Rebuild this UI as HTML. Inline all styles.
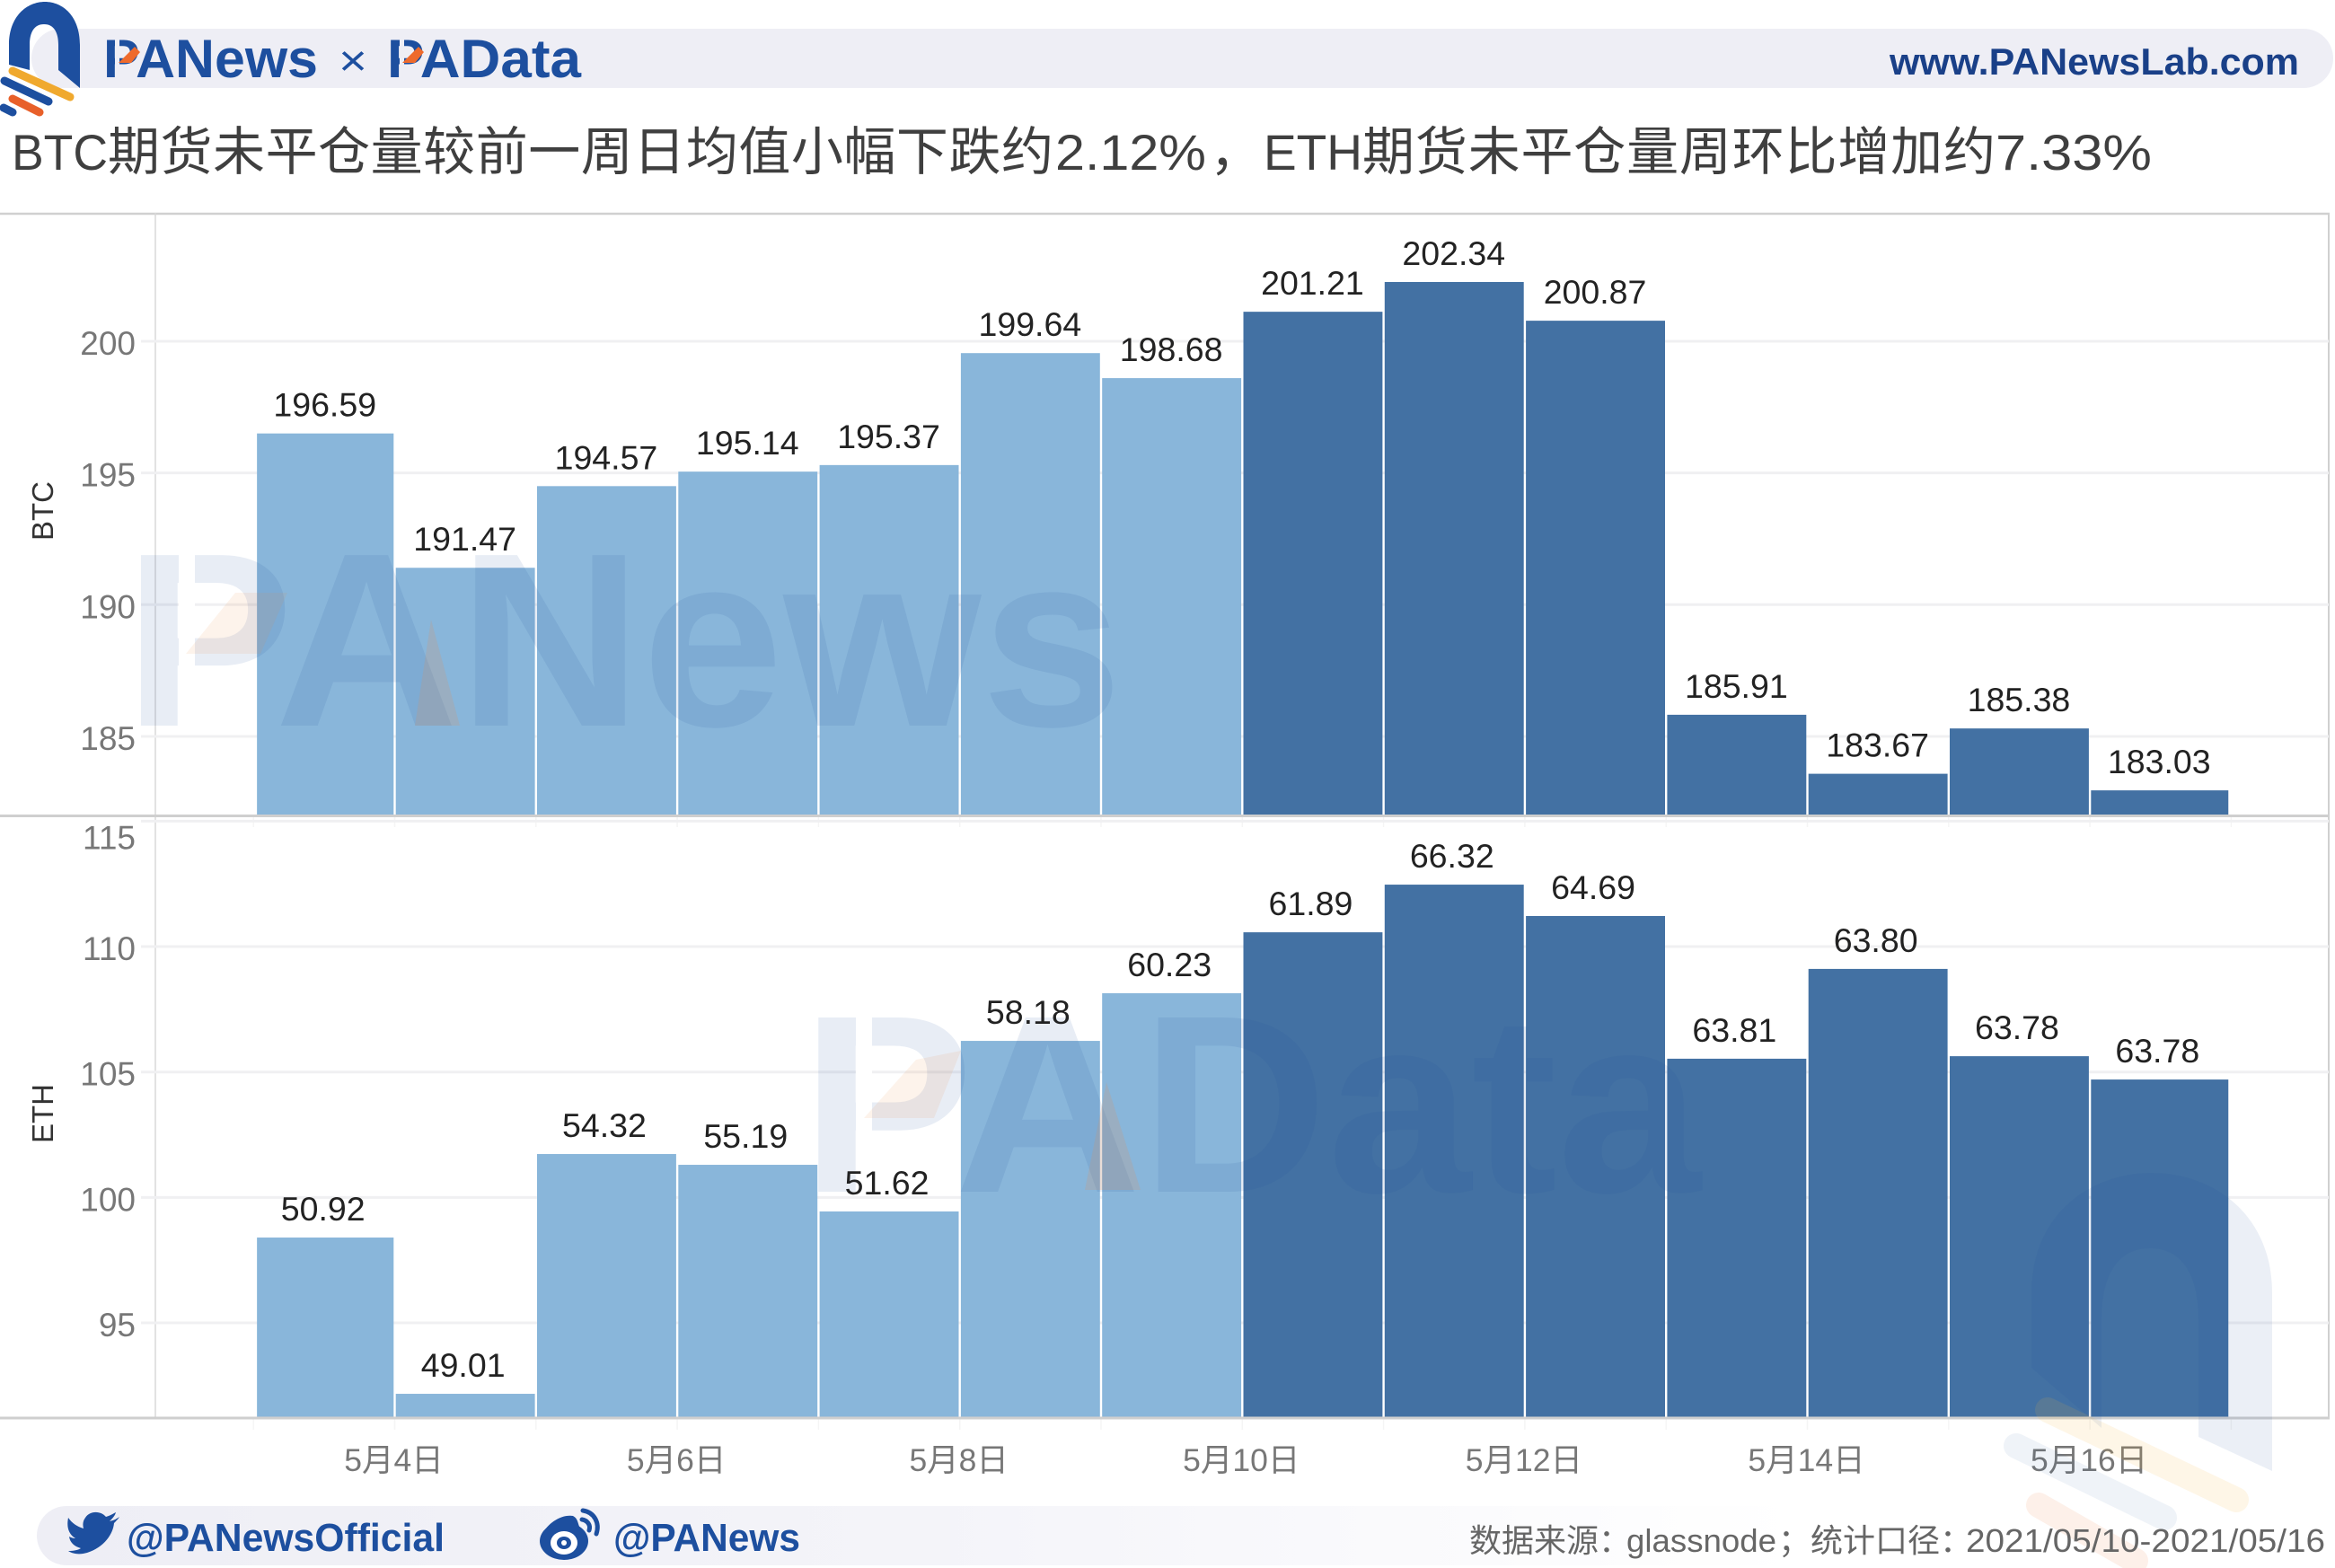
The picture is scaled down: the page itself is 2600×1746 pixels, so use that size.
<!DOCTYPE html>
<html lang="zh">
<head>
<meta charset="utf-8">
<title>BTC / ETH 期货未平仓量</title>
<style>
html,body{margin:0;padding:0;background:#fff;}
svg{display:block;font-family:"Liberation Sans","Noto Sans CJK SC",sans-serif;}
</style>
</head>
<body>
<svg id="chart" xmlns="http://www.w3.org/2000/svg" width="2600" height="1746" viewBox="0 0 2600 1746">
  <defs>
    <linearGradient id="footerFade" x1="0" x2="1" y1="0" y2="0">
      <stop offset="0" stop-color="#eeeef5"/>
      <stop offset="0.5" stop-color="#f4f4f9"/>
      <stop offset="1" stop-color="#ffffff"/>
    </linearGradient>
  </defs>
  <rect x="0" y="0" width="2600" height="1746" fill="#fff"/>

  <rect x="35" y="32" width="2563" height="66" rx="33" fill="#eeeef5"/>
  <rect x="41" y="1677" width="1960" height="66" rx="33" fill="url(#footerFade)"/>

  <g id="plot"></g>

  <g>
    <text x="138" y="808" font-size="276" font-weight="700" fill="#1d4f9f" fill-opacity="0.1" textLength="1112" lengthAdjust="spacingAndGlyphs">PANews</text>
    <rect x="199" y="606" width="18" height="208" fill="#fff"/>
    <polygon points="207,728 262,660 320,660 290,728" fill="#f08a3c" fill-opacity="0.1"/>
    <polygon points="480,690 512,808 462,808" fill="#f08a3c" fill-opacity="0.16"/>
  </g>
  <g>
    <text x="892" y="1327" font-size="282" font-weight="700" fill="#1d4f9f" fill-opacity="0.1" textLength="1002" lengthAdjust="spacingAndGlyphs">PAData</text>
    <rect x="953" y="1120" width="18" height="210" fill="#fff"/>
    <polygon points="962,1245 1020,1180 1070,1170 1040,1245" fill="#f08a3c" fill-opacity="0.1"/>
    <polygon points="1232,1205 1270,1325 1208,1325" fill="#f08a3c" fill-opacity="0.16"/>
  </g>
  <g>
    <path d="M2262 1523 V1440 C2262 1350 2330 1306 2396 1306 C2462 1306 2530 1350 2530 1440 V1638 L2448 1600 V1470 C2448 1420 2430 1390 2394 1390 C2358 1390 2340 1420 2340 1470 V1590 Z" fill="#1d4f9f" fill-opacity="0.09"/>
    <line x1="2280" y1="1570" x2="2490" y2="1670" stroke="#f5b93a" stroke-opacity="0.12" stroke-width="28" stroke-linecap="round"/>
    <line x1="2245" y1="1610" x2="2410" y2="1690" stroke="#1d4f9f" stroke-opacity="0.07" stroke-width="28" stroke-linecap="round"/>
    <line x1="2270" y1="1676" x2="2378" y2="1738" stroke="#ee6a2c" stroke-opacity="0.1" stroke-width="28" stroke-linecap="round"/>
  </g>

  <g id="value-labels"></g>

  <g>
    <path d="M10 72 V50 C10 18 30 2 50 2 C70 2 89 18 89 50 V98 L65 78 V50 C65 36 60 27 49 27 C38 27 33 36 33 50 V78 Z" fill="#1d4f9f"/>
    <line x1="14" y1="79" x2="78" y2="108" stroke="#f0a92e" stroke-width="9" stroke-linecap="round"/>
    <line x1="5" y1="90" x2="54" y2="113" stroke="#1d4f9f" stroke-width="9" stroke-linecap="round"/>
    <line x1="14" y1="110" x2="44" y2="125" stroke="#e8602a" stroke-width="9" stroke-linecap="round"/>
    <line x1="4" y1="120" x2="14" y2="125" stroke="#1d4f9f" stroke-width="9" stroke-linecap="round"/>
  </g>
  <text x="115" y="86" font-size="60" font-weight="700" fill="#1d4f9f" textLength="239" lengthAdjust="spacingAndGlyphs">PANews</text>
  <rect x="128" y="42" width="5" height="46" fill="#eeeef5"/>
  <polygon points="132,70 150,52 156,58 146,70" fill="#ee6a2c"/>
  <text x="377" y="84" font-size="48" fill="#1d4f9f" textLength="32" lengthAdjust="spacingAndGlyphs">×</text>
  <text x="431" y="86" font-size="60" font-weight="700" fill="#1d4f9f" textLength="216" lengthAdjust="spacingAndGlyphs">PAData</text>
  <rect x="445" y="42" width="5" height="46" fill="#eeeef5"/>
  <polygon points="448,70 466,52 472,58 462,70" fill="#ee6a2c"/>
  <text x="2104" y="83" font-size="42" font-weight="700" fill="#1a4088" textLength="456" lengthAdjust="spacingAndGlyphs">www.PANewsLab.com</text>

  <g fill="#3f3f3f" font-size="58">
    <text x="13" y="189" font-size="56" textLength="107" lengthAdjust="spacingAndGlyphs">BTC</text>
    <text x="120" y="189" textLength="1053" lengthAdjust="spacing">期货未平仓量较前一周日均值小幅下跌约</text>
    <text x="1175" y="189" font-size="56" textLength="168" lengthAdjust="spacingAndGlyphs">2.12%</text>
    <text x="1347" y="189">，</text>
    <text x="1407" y="189" font-size="56" textLength="110" lengthAdjust="spacingAndGlyphs">ETH</text>
    <text x="1517" y="189" textLength="705" lengthAdjust="spacing">期货未平仓量周环比增加约</text>
    <text x="2222" y="189" font-size="56" textLength="174" lengthAdjust="spacingAndGlyphs">7.33%</text>
  </g>

  <path d="M133 1689 C129 1692 126 1693 122 1694 C125 1691 128 1688 129 1684 C125 1686 122 1688 118 1689 C112 1682 100 1682 95 1690 C92 1694 92 1698 93 1702 C86 1700 80 1696 76 1690 C74 1700 76 1708 84 1713 C81 1713 79 1712 77 1711 C78 1718 83 1722 90 1724 C87 1726 82 1727 76 1727 C82 1731 90 1731 97 1729 C116 1723 126 1708 127 1696 C129 1694 132 1691 133 1689 Z" fill="#1d4f9f"/>
  <text x="141" y="1727" font-size="44" font-weight="700" fill="#1d4f9f" textLength="354" lengthAdjust="spacingAndGlyphs">@PANewsOfficial</text>
  <g>
    <ellipse cx="628" cy="1716" rx="27" ry="21" fill="#1d4f9f"/>
    <path d="M604 1708 C610 1696 625 1686 638 1688 C646 1692 642 1702 650 1704 L640 1712 L610 1718 Z" fill="#1d4f9f"/>
    <ellipse cx="628" cy="1718" rx="15" ry="13" fill="#fff"/>
    <ellipse cx="628" cy="1718" rx="8" ry="7" fill="#1d4f9f"/>
    <ellipse cx="628" cy="1718" rx="3" ry="3" fill="#fff"/>
    <path d="M649 1682 C662 1684 668 1696 664 1708 M648 1692 C654 1693 658 1698 656 1704" fill="none" stroke="#1d4f9f" stroke-width="5" stroke-linecap="round"/>
  </g>
  <text x="683" y="1727" font-size="44" font-weight="700" fill="#1d4f9f" textLength="208" lengthAdjust="spacingAndGlyphs">@PANews</text>
  <g font-size="36" fill="#666">
    <text x="1636" y="1728">数据来源：</text>
    <text x="1811" y="1728" textLength="167" lengthAdjust="spacingAndGlyphs">glassnode</text>
    <text x="1980" y="1728">；</text>
    <text x="2016" y="1728">统计口径：</text>
    <text x="2189" y="1728" textLength="400" lengthAdjust="spacingAndGlyphs">2021/05/10-2021/05/16</text>
  </g>
</svg>

<script>
// Day of May on which each bar starts
const barDays = [3, 4, 5, 6, 7, 8, 9, 10, 11, 12, 13, 14, 15, 16];
const btcValues = [196.5, 191.4, 194.5, 195.05, 195.3, 199.55, 198.6, 201.12, 202.25, 200.78, 185.82, 183.58, 185.3, 182.95];
const ethValues = [98.4, 92.17, 101.73, 101.3, 99.44, 106.24, 108.14, 110.57, 112.47, 111.22, 105.53, 109.11, 105.63, 104.7];
// Labels printed over the bars
const btcLabels = ['196.59', '191.47', '194.57', '195.14', '195.37', '199.64', '198.68', '201.21', '202.34', '200.87', '185.91', '183.67', '185.38', '183.03'];
const ethLabels = ['50.92', '49.01', '54.32', '55.19', '51.62', '58.18', '60.23', '61.89', '66.32', '64.69', '63.81', '63.80', '63.78', '63.78'];
// Number of leading bars drawn in the lighter colour
const lightBarCount = 7;
// Axis ticks
const btcTicks = [200, 195, 190, 185];
const ethTicks = [115, 110, 105, 100, 95];
const xTickDays = [4, 6, 8, 10, 12, 14, 16];
const xTickLabels = ['5月4日', '5月6日', '5月8日', '5月10日', '5月12日', '5月14日', '5月16日'];
const minorTickDays = [3, 4, 5, 6, 7, 8, 9, 10, 11, 12, 13, 14, 15, 16, 17];

const NS = 'http://www.w3.org/2000/svg';
const plot = document.getElementById('plot');
const valueLabelLayer = document.getElementById('value-labels');

function xScale(day) {
  return 439.5 + (day - 4) * 157.3;
}
function btcY(v) {
  return 380 + (200 - v) * 29.33;
}
function ethY(v) {
  return 1473 - (v - 95) * 27.93;
}
const xMin = 3.025;
const xMax = 16.98;

function make(tag, attrs, text, parent) {
  const el = document.createElementNS(NS, tag);
  Object.keys(attrs).forEach(function (k) { el.setAttribute(k, attrs[k]); });
  if (text !== undefined) el.textContent = text;
  (parent || plot).appendChild(el);
  return el;
}

function drawLine(x1, y1, x2, y2, color, width, name) {
  const el = make('line', { x1: x1, y1: y1, x2: x2, y2: y2, stroke: color, 'stroke-width': width });
  
  
}

function drawPanel(prefix, values, labels, ticks, yFn, baseY, labelShift) {
  ticks.forEach(function (t) {
    const gy = yFn(t);
    drawLine(157, gy, 2593, gy, '#f0f0f2', 3, prefix + '-gridline-' + t);
    const isTop = (gy - 237 < 10) || (baseY > 1000 && gy < 925);
    const tickLabel = make('text', { x: 151, y: gy + (isTop ? 31 : 15), 'text-anchor': 'end', 'font-size': 37, fill: '#777' }, String(t));
    
    
  });
  minorTickDays.forEach(function (d) {
    const tx = xScale(d);
    drawLine(tx, baseY, tx, baseY + 14, '#f5f5f5', 1.5, prefix + '-x-tick');
  });
  values.forEach(function (v, i) {
    const left = Math.max(barDays[i], xMin);
    const right = Math.min(barDays[i] + 1, xMax);
    const x0 = xScale(left) + (barDays[i] > xMin ? 1.2 : 0);
    const x1 = xScale(right) - (barDays[i] + 1 < xMax ? 1.2 : 0);
    const top = yFn(v);
    const bar = make('rect', { x: x0, y: top, width: x1 - x0, height: baseY - top, fill: i < lightBarCount ? '#89b6da' : '#4371a3' });
    
    
    const label = make('text', { x: (x0 + x1) / 2 + labelShift, y: top - 19, 'text-anchor': 'middle', 'font-size': 37.5, fill: '#222' }, labels[i], valueLabelLayer);
    
    
  });
}

drawLine(0, 238, 2594, 238, '#d0d0d0', 2.5, 'panel-top-border');
drawLine(173, 237, 173, 1579, '#d8d8d8', 1.5, 'y-axis-line');
drawLine(2593, 237, 2593, 1579, '#d0d0d0', 2, 'panel-right-border');

drawPanel('btc', btcValues, btcLabels, btcTicks, btcY, 907, -0.5);
drawPanel('eth', ethValues, ethLabels, ethTicks, ethY, 1578, -2.5);

drawLine(0, 908.5, 2594, 908.5, '#cfcfcf', 3, 'panel-divider');
drawLine(0, 1579, 2594, 1579, '#cfcfcf', 3, 'x-axis-line');

xTickDays.forEach(function (d, i) {
  const tick = make('text', { x: xScale(d) - 1, y: 1638, 'text-anchor': 'middle', 'font-size': 35.5, fill: '#777' }, xTickLabels[i]);
  
  
});

const btcTitle = make('text', { transform: 'translate(59,569) rotate(-90)', 'text-anchor': 'middle', 'font-size': 33, fill: '#333' }, 'BTC');



const ethTitle = make('text', { transform: 'translate(59,1240) rotate(-90)', 'text-anchor': 'middle', 'font-size': 33, fill: '#333' }, 'ETH');


</script>
</body>
</html>
